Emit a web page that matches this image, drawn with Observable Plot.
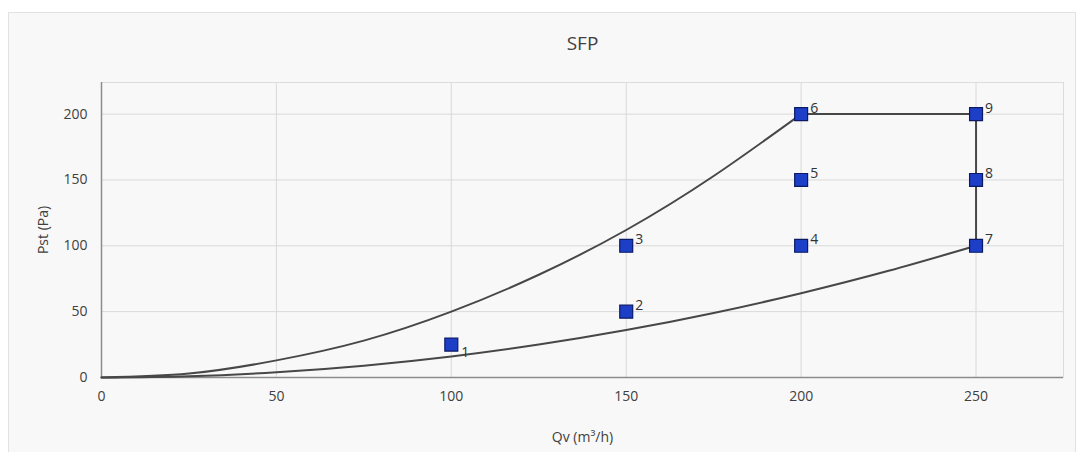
<!DOCTYPE html>
<html>
<head>
<meta charset="utf-8">
<script src="https://cdn.jsdelivr.net/npm/d3@7"></script>
<script src="https://cdn.jsdelivr.net/npm/@observablehq/plot@0.6"></script>
<style>
  html, body { margin: 0; padding: 0; background: #ffffff; }
  #wrap { position: relative; width: 1084px; height: 452px; overflow: hidden; }
  #panel { position: absolute; left: 8px; top: 12px; width: 1068px; height: 445px;
           background: #f8f8f8; border: 1px solid #e2e2e2; box-sizing: border-box; }
  #chart { position: absolute; left: 0; top: 0; }
</style>
</head>
<body>
<div id="wrap"><div id="panel"></div><div id="chart"></div></div>
<script>
// Operating points
const pointIds = ["1","2","3","4","5","6","7","8","9"];
const pointQv  = [100, 150, 150, 200, 200, 200, 250, 250, 250];
const pointPst = [25, 50, 100, 100, 150, 200, 100, 150, 200];

// Upper system curve
const upperQv  = [0, 25, 50, 75, 100, 125, 150, 175, 200];
const upperPst = [0, 3, 13, 28, 50, 78, 112, 153, 200];

// Max-flow / max-pressure boundary
const edgeQv  = [200, 250, 250];
const edgePst = [200, 200, 100];

// Lower system curve
const lowerQv  = [0, 25, 50, 75, 100, 125, 150, 175, 200, 225, 250];
const lowerPst = [0, 1, 4, 9, 16, 25, 36, 49, 64, 81, 100];

const xTicks = [0, 50, 100, 150, 200, 250];
const yTicks = [0, 50, 100, 150, 200];

const points = pointIds.map((id, i) => ({id, qv: pointQv[i], pst: pointPst[i]}));
const upper = upperQv.map((q, i) => ({qv: q, pst: upperPst[i]}));
const edge = edgeQv.map((q, i) => ({qv: q, pst: edgePst[i]}));
const lower = lowerQv.map((q, i) => ({qv: q, pst: lowerPst[i]}));

const font = "'Open Sans', 'DejaVu Sans', sans-serif";
const lineColor = "#474747";
const textColor = "#404040";

const chart = Plot.plot({
  width: 1084,
  height: 452,
  marginLeft: 101,
  marginRight: 21,
  marginTop: 82,
  marginBottom: 75,
  style: { background: "transparent", fontFamily: font, fontSize: "14px", color: textColor, overflow: "visible" },
  x: { domain: [0, 275], ticks: xTicks, tickSize: 0, tickPadding: 14, label: null },
  y: { domain: [0, 224], ticks: yTicks, tickSize: 0, tickPadding: 14, label: null },
  marks: [
    Plot.gridX(xTicks, { stroke: "#d9d9d9", strokeOpacity: 1 }),
    Plot.gridY(yTicks, { stroke: "#d9d9d9", strokeOpacity: 1 }),
    Plot.frame({ stroke: "#dcdcdc" }),
    Plot.ruleX([0], { stroke: "#8c8c8c", strokeWidth: 1.5 }),
    Plot.ruleY([0], { stroke: "#8c8c8c", strokeWidth: 1.5 }),
    Plot.axisX({ ticks: xTicks, tickSize: 0, tickPadding: 14, fontSize: 14, fill: textColor }),
    Plot.axisY({ ticks: yTicks, tickSize: 0, tickPadding: 14, fontSize: 14, fill: textColor }),
    Plot.line(upper, { x: "qv", y: "pst", stroke: lineColor, strokeWidth: 2, curve: "natural" }),
    Plot.line(edge, { x: "qv", y: "pst", stroke: lineColor, strokeWidth: 2 }),
    Plot.line(lower, { x: "qv", y: "pst", stroke: lineColor, strokeWidth: 2, curve: "natural" }),
    Plot.dot(points, { x: "qv", y: "pst", symbol: "square", r: 7.3, fill: "#1d3fc8", stroke: "#0b1a63", strokeWidth: 1.2 }),
    Plot.text(points.filter(d => d.id !== "1"), { x: "qv", y: "pst", text: "id", dx: 13, dy: -6, fontSize: 14, fill: "#333", textAnchor: "middle" }),
    Plot.text(points.filter(d => d.id === "1"), { x: "qv", y: "pst", text: "id", dx: 14, dy: 8, fontSize: 14, fill: "#333", textAnchor: "middle" }),
    Plot.text(["SFP"], { frameAnchor: "top", lineAnchor: "middle", dy: -39, fontSize: 19, fill: textColor }),
    Plot.text(["Qv (m³/h)"], { frameAnchor: "bottom", lineAnchor: "middle", dy: 60, fontSize: 14, fill: textColor }),
    Plot.text(["Pst (Pa)"], { frameAnchor: "left", lineAnchor: "middle", textAnchor: "middle", dx: -58, rotate: -90, fontSize: 14, fill: textColor })
  ]
});
document.getElementById("chart").appendChild(chart);
</script>
</body>
</html>
